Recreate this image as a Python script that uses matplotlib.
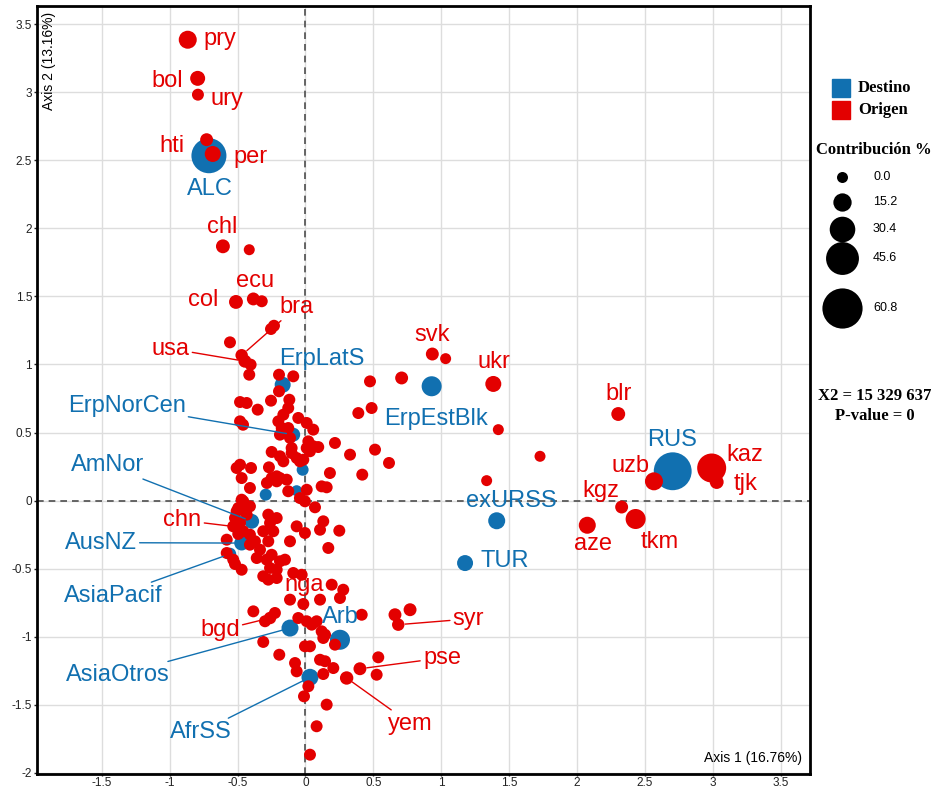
import numpy as np
import matplotlib
matplotlib.use("Agg")
import matplotlib.pyplot as plt
from matplotlib.patches import Rectangle
from matplotlib.ticker import MultipleLocator, FuncFormatter

W, H, DPI = 935, 789, 100
RED = "#E30000"
BLUE = "#1170B0"
SANS = ["Liberation Sans", "DejaVu Sans"]
NARROW = ["Liberation Sans Narrow", "Liberation Sans", "DejaVu Sans"]
SERIF = ["Liberation Serif", "DejaVu Serif"]

# --- origin countries (red), labelled ones
orig_names = ["pry", "bol", "ury", "hti", "per", "chl", "col", "ecu", "bra", "usa",
              "svk", "ukr", "blr", "kaz", "uzb", "tjk", "kgz", "tkm", "aze", "chn",
              "nga", "bgd", "syr", "pse", "yem"]
orig_x = [-0.867, -0.794, -0.792, -0.728, -0.683, -0.608, -0.512, -0.384, -0.470, -0.446,
          0.934, 1.383, 2.303, 2.991, 2.566, 3.028, 2.328, 2.431, 2.075, -0.497,
          -0.016, -0.261, 0.683, 0.401, 0.303]
orig_y = [3.388, 3.104, 2.984, 2.653, 2.548, 1.869, 1.460, 1.482, 1.068, 1.024,
          1.077, 0.857, 0.636, 0.239, 0.141, 0.136, -0.048, -0.136, -0.182, -0.195,
          -0.761, -0.864, -0.913, -1.237, -1.305]
orig_ctr = [14.6, 8.3, 2.0, 4.0, 10.4, 6.0, 6.0, 4.0, 3.0, 4.0,
            4.0, 10.4, 6.0, 37.5, 14.6, 6.0, 4.0, 18.8, 12.5, 2.0,
            2.0, 3.0, 3.0, 4.0, 5.0]

# --- origin countries without label
other_x = [-0.414, -0.322, -0.254, -0.232, -0.556, -0.404, -0.414, -0.195, -0.090, -0.195,
           0.475, 0.708, 0.389, 0.487, -0.482, -0.433, -0.352, -0.254, -0.119, -0.163,
           -0.127, -0.053, 0.009, 0.057, -0.482, -0.460, -0.200, -0.175, -0.127, -0.188,
           -0.114, 0.021, 0.094, 0.009, -0.102, 0.217, 0.328, 0.512, 0.615, 0.418,
           0.180, -0.249, -0.188, -0.163, -0.102, -0.041, 0.033, -0.507, -0.482, -0.401,
           -0.470, -0.269, -0.249, -0.188, -0.138, -0.284, -0.409, -0.127, 0.009, 0.119,
           0.156, -0.041, -0.004, 0.070, -0.458, -0.495, -0.409, -0.433, -0.519, -0.482,
           -0.458, -0.409, -0.372, -0.532, -0.580, -0.274, -0.212, -0.261, -0.237, -0.311,
           -0.274, -0.065, -0.004, 0.131, 0.107, 0.249, -0.114, 0.168, -0.409, -0.335,
           -0.359, -0.286, -0.249, -0.188, -0.151, -0.261, -0.212, -0.311, -0.274, -0.212,
           -0.580, -0.532, -0.519, -0.470, -0.090, -0.028, 0.193, 0.278, 0.254, 0.107,
           -0.114, -0.384, -0.225, -0.298, -0.053, 0.009, 0.046, 0.082, 0.119, 0.144,
           0.131, 0.217, 0.414, -0.311, -0.193, -0.004, 0.033, 0.107, 0.144, 0.205,
           0.131, 0.536, 0.524, -0.077, -0.065, 0.021, -0.011, 0.156, 0.082, 0.033,
           0.659, 0.770, 1.420, 1.727, 1.334, 1.032, -0.065, -0.016, 0.057, -0.212,
           -0.212, -0.470, -0.458, -0.507, -0.495]
other_y = [1.844, 1.465, 1.261, 1.285, 1.163, 0.999, 0.925, 0.925, 0.913, 0.803,
           0.876, 0.901, 0.643, 0.680, 0.724, 0.717, 0.668, 0.734, 0.741, 0.631,
           0.680, 0.607, 0.570, 0.521, 0.582, 0.557, 0.582, 0.533, 0.533, 0.484,
           0.460, 0.435, 0.393, 0.386, 0.386, 0.423, 0.337, 0.374, 0.276, 0.190,
           0.202, 0.357, 0.325, 0.288, 0.349, 0.288, 0.362, 0.239, 0.263, 0.239,
           0.165, 0.244, 0.165, 0.165, 0.153, 0.129, 0.092, 0.068, 0.079, 0.104,
           0.097, 0.018, -0.006, -0.050, -0.006, -0.055, -0.043, -0.104, -0.129, -0.165,
           -0.226, -0.251, -0.300, -0.190, -0.288, -0.104, -0.129, -0.165, -0.226, -0.226,
           -0.300, -0.190, -0.239, -0.153, -0.215, -0.222, -0.300, -0.349, -0.325, -0.362,
           -0.423, -0.435, -0.399, -0.447, -0.435, -0.496, -0.509, -0.557, -0.582, -0.570,
           -0.386, -0.435, -0.467, -0.509, -0.533, -0.546, -0.619, -0.656, -0.717, -0.729,
           -0.729, -0.815, -0.827, -0.888, -0.864, -0.888, -0.913, -0.888, -0.962, -0.987,
           -1.011, -1.060, -0.840, -1.040, -1.134, -1.072, -1.072, -1.171, -1.182, -1.232,
           -1.276, -1.153, -1.281, -1.195, -1.256, -1.366, -1.440, -1.501, -1.660, -1.869,
           -0.840, -0.803, 0.521, 0.325, 0.146, 1.043, 0.3125, 0.300, 0.399, 0.178,
           0.141, 0.006, -0.043, -0.079, -0.246]
other_ctr = [0, 2, 2, 2, 2, 2, 2, 2, 2, 2,
             2, 4, 2, 2, 2, 2, 2, 2, 2, 2,
             2, 2, 2, 2, 2, 2, 2, 2, 2, 2,
             2, 2, 2, 2, 2, 2, 2, 2, 2, 2,
             2, 2, 2, 2, 2, 2, 2, 2, 2, 2,
             2, 2, 2, 2, 2, 2, 2, 2, 2, 2,
             2, 2, 2, 2, 2, 2, 2, 2, 2, 2,
             2, 2, 2, 2, 2, 2, 2, 2, 2, 2,
             2, 2, 2, 2, 2, 2, 2, 2, 2, 2,
             2, 2, 2, 2, 2, 2, 2, 2, 2, 2,
             2, 2, 2, 2, 2, 2, 2, 2, 2, 2,
             2, 2, 2, 2, 2, 2, 2, 2, 2, 2,
             2, 2, 2, 2, 2, 2, 2, 2, 2, 2,
             2, 2, 2, 2, 2, 2, 2, 2, 2, 2,
             4, 4, 0, 0, 0, 0, 2, 2, 2, 2,
             2, 2, 2, 2, 2]

# --- destination regions (blue)
dest_names = ["ALC", "ErpLatS", "ErpNorCen", "AmNor", "AusNZ", "AsiaPacif", "AsiaOtros",
              "AfrSS", "Arb", "ErpEstBlk", "exURSS", "TUR", "RUS", "", "", ""]
dest_x = [-0.711, -0.168, -0.090, -0.396, -0.470, -0.556, -0.114,
          0.033, 0.254, 0.929, 1.408, 1.175, 2.704, -0.021, -0.065, -0.293]
dest_y = [2.535, 0.851, 0.484, -0.153, -0.313, -0.393, -0.938,
          -1.300, -1.024, 0.840, -0.149, -0.460, 0.215, 0.226, 0.072, 0.043]
dest_ctr = [50.0, 10.4, 6.0, 8.0, 8.0, 3.0, 12.5,
            12.5, 18.8, 18.8, 12.5, 10.4, 56.0, 2.0, 0.0, 2.0]

legend_vals = [0.0, 15.2, 30.4, 45.6, 60.8]
axis_titles = ("Axis 1 (16.76%)", "Axis 2 (13.16%)")
stats_text = ["X2 = 15 329 637", "P-value = 0"]

# where the repelled labels sit (data units, baseline centre)
label_pos = {
    "pry": (-0.630, 3.349), "bol": (-1.015, 3.038), "ury": (-0.578, 2.910),
    "hti": (-0.985, 2.563), "per": (-0.404, 2.482), "ALC": (-0.703, 2.249),
    "chl": (-0.615, 1.967), "col": (-0.753, 1.428), "ecu": (-0.372, 1.568),
    "bra": (-0.065, 1.379), "usa": (-0.994, 1.072), "ErpLatS": (0.122, 0.994),
    "svk": (0.935, 1.175), "ukr": (1.386, 0.974), "ErpEstBlk": (0.961, 0.557),
    "blr": (2.303, 0.741), "RUS": (2.699, 0.399), "uzb": (2.395, 0.210),
    "kaz": (3.231, 0.293), "tjk": (3.244, 0.079), "kgz": (2.171, 0.024),
    "exURSS": (1.513, -0.050), "aze": (2.115, -0.362), "tkm": (2.607, -0.349),
    "TUR": (1.469, -0.491), "ErpNorCen": (-1.317, 0.649), "AmNor": (-1.458, 0.215),
    "chn": (-0.906, -0.190), "AusNZ": (-1.507, -0.354), "AsiaPacif": (-1.418, -0.746),
    "bgd": (-0.630, -0.999), "AsiaOtros": (-1.384, -1.329), "AfrSS": (-0.771, -1.746),
    "nga": (-0.011, -0.668), "Arb": (0.254, -0.901), "syr": (1.200, -0.915),
    "pse": (1.005, -1.202), "yem": (0.773, -1.685),
}
with_segment = {"bra", "usa", "ErpNorCen", "AmNor", "chn", "AusNZ", "AsiaPacif",
                "bgd", "AsiaOtros", "AfrSS", "syr", "pse", "yem"}


def size_of(ctr) -> np.ndarray:
    # diameter in pixels grows linearly with the contribution
    d_px = 11 + 0.48 * np.asarray(ctr, dtype=float)
    return (d_px * 72 / DPI) ** 2


def put_labels(ax, names, xs, ys, color) -> None:
    for n, x, y in zip(names, xs, ys):
        if not n:
            continue
        tx, ty = label_pos[n]
        props = None
        if n in with_segment:
            props = dict(arrowstyle="-", color=color, lw=1.0, shrinkA=0, shrinkB=5)
        ax.annotate(n, xy=(x, y), xytext=(tx, ty), textcoords="data",
                    ha="center", va="baseline", color=color, fontsize=17,
                    family=SANS, arrowprops=props, zorder=6)


def draw_legend(fig) -> None:
    lax = fig.add_axes([0, 0, 1, 1])
    lax.set_xlim(0, W)
    lax.set_ylim(H, 0)
    lax.axis("off")
    for col, name, py in [(BLUE, "Destino", 88), (RED, "Origen", 110)]:
        lax.add_patch(Rectangle((832, py - 9), 18, 18, color=col))
        lax.text(858, py, name, family=SERIF, weight="bold", fontsize=12, va="center")
    lax.text(874, 150, "Contribución %", family=SERIF, weight="bold", fontsize=12,
             ha="center", va="center")
    for v, py in zip(legend_vals, [177, 201.5, 229, 258, 308]):
        lax.scatter([842], [py], s=size_of([v]), color="black", linewidths=0)
        lax.text(873, py, f"{v:.1f}", fontsize=9, family=SANS, va="center")
    lax.text(875, 396, stats_text[0], family=SERIF, weight="bold", fontsize=12,
             ha="center", va="center")
    lax.text(875, 416, stats_text[1], family=SERIF, weight="bold", fontsize=12,
             ha="center", va="center")


def main() -> None:
    fig = plt.figure(figsize=(W / DPI, H / DPI), dpi=DPI)
    ax = fig.add_axes([37 / W, 1 - 774 / H, 773 / W, 768 / H])
    ax.set_xlim(-1.977, 3.715)
    ax.set_ylim(-2.011, 3.636)

    ax.xaxis.set_major_locator(MultipleLocator(0.5))
    ax.yaxis.set_major_locator(MultipleLocator(0.5))
    fmt = FuncFormatter(lambda v, p: f"{v:g}")
    ax.xaxis.set_major_formatter(fmt)
    ax.yaxis.set_major_formatter(fmt)
    ax.tick_params(labelsize=8.5, length=2, width=1, colors="#222222", pad=1.5)
    ax.tick_params(axis="x", length=1.5, pad=0.5)
    for lab in ax.get_xticklabels() + ax.get_yticklabels():
        lab.set_family(NARROW)
    ax.grid(True, color="#DDDDDD", lw=1, zorder=0)
    ax.set_axisbelow(True)
    for sp in ax.spines.values():
        sp.set_linewidth(2)
        sp.set_color("black")

    ax.axhline(0, color="#4D4D4D", lw=1.2, ls=(0, (4, 3)), zorder=1)
    ax.axvline(0, color="#4D4D4D", lw=1.2, ls=(0, (4, 3)), zorder=1)

    ax.scatter(dest_x, dest_y, s=size_of(dest_ctr), color=BLUE, linewidths=0, zorder=3)
    ax.scatter(other_x, other_y, s=size_of(other_ctr), color=RED, linewidths=0, zorder=4)
    ax.scatter(orig_x, orig_y, s=size_of(orig_ctr), color=RED, linewidths=0, zorder=4)

    put_labels(ax, dest_names, dest_x, dest_y, BLUE)
    put_labels(ax, orig_names, orig_x, orig_y, RED)

    ax.text(0.99, 0.012, axis_titles[0], transform=ax.transAxes, ha="right", va="bottom",
            fontsize=10, family=NARROW)
    ax.text(0.007, 0.993, axis_titles[1], transform=ax.transAxes, ha="left", va="top",
            rotation=90, fontsize=10, family=NARROW)

    draw_legend(fig)
    fig.savefig("out.png", dpi=DPI)


if __name__ == "__main__":
    main()
